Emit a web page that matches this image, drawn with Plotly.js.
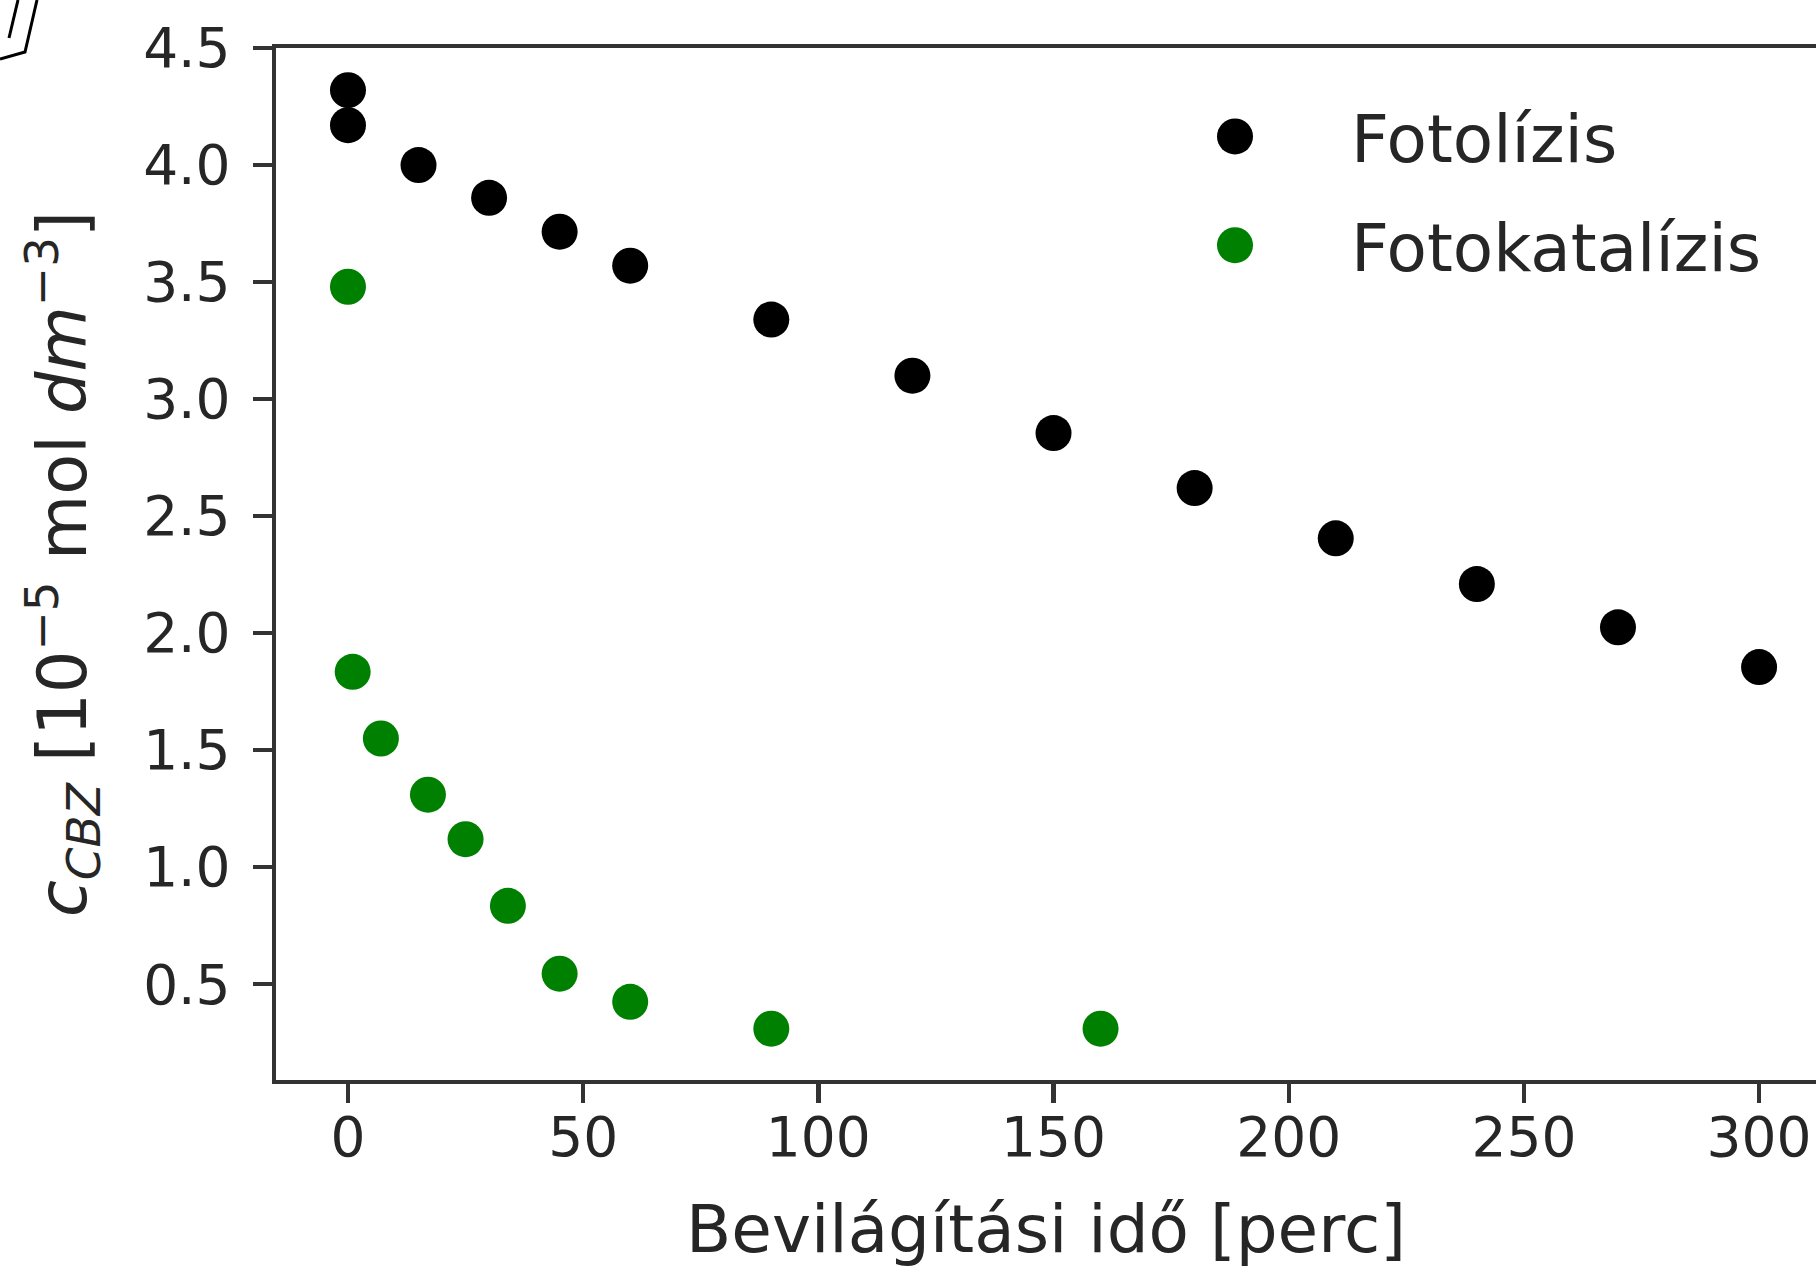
<!DOCTYPE html>
<html>
<head>
<meta charset="utf-8">
<script src="https://cdn.plot.ly/plotly-3.0.1.min.js"></script>
<style>
  html, body { margin: 0; padding: 0; background: #ffffff; }
  #chart { width: 1816px; height: 1268px; }
</style>
</head>
<body>
<div id="chart"></div>
<script>
// ---- data ----
const seriesNames = ["Fotolízis", "Fotokatalízis"];
const seriesColors = ["#000000", "#008000"];

const fotolizisTime = [0, 0, 15, 30, 45, 60, 90, 120, 150, 180, 210, 240, 270, 300];
const fotolizisConc = [4.32, 4.17, 4.00, 3.86, 3.715, 3.57, 3.34, 3.10, 2.855, 2.62, 2.405, 2.21, 2.025, 1.855];

const fotokatTime = [0, 1, 7, 17, 25, 34, 45, 60, 90, 160];
const fotokatConc = [3.48, 1.835, 1.55, 1.31, 1.12, 0.835, 0.545, 0.425, 0.31, 0.31];

const xTickVals = [0, 50, 100, 150, 200, 250, 300];
const xTickText = ["0", "50", "100", "150", "200", "250", "300"];
const yTickVals = [0.5, 1.0, 1.5, 2.0, 2.5, 3.0, 3.5, 4.0, 4.5];
const yTickText = ["0.5", "1.0", "1.5", "2.0", "2.5", "3.0", "3.5", "4.0", "4.5"];

const xTitle = "Bevilágítási idő [perc]";
const yTitle = "<i>c</i><sub><i>CBZ</i></sub> [10<sup>−5</sup> mol <i>dm</i><sup>−3</sup>]";

// ---- chart ----
const FONT = "DejaVu Sans, Liberation Sans, sans-serif";
const AX = "#333333";
const LW = 4.4;
const MARKER = 36;

const traces = [
  {
    x: fotolizisTime, y: fotolizisConc, name: seriesNames[0],
    type: "scatter", mode: "markers", legendgroup: "a",
    marker: { color: seriesColors[0], size: MARKER, line: { width: 0 } },
    cliponaxis: false, hoverinfo: "x+y"
  },
  {
    x: fotokatTime, y: fotokatConc, name: seriesNames[1],
    type: "scatter", mode: "markers", legendgroup: "b",
    marker: { color: seriesColors[1], size: MARKER, line: { width: 0 } },
    cliponaxis: false, hoverinfo: "x+y"
  }
];

const W = 1816, H = 1268;
const mL = 276, mR = 0, mT = 48, mB = 188;
const pw = W - mL - mR, ph = H - mT - mB;
function px(x) { return (x - mL) / pw; }
function py(y) { return 1 - (y - mT) / ph; }

const layout = {
  width: W, height: H,
  margin: { l: mL, r: mR, t: mT, b: mB, pad: 0 },
  paper_bgcolor: "#ffffff",
  plot_bgcolor: "#ffffff",
  font: { family: FONT, color: "#262626" },
  showlegend: true,
  xaxis: {
    range: [-15.3, 312.1],
    tickmode: "array", tickvals: xTickVals, ticktext: xTickText,
    ticks: "outside", ticklen: 19, tickwidth: LW, tickcolor: AX,
    showline: true, linecolor: AX, linewidth: LW, mirror: true,
    showgrid: false, zeroline: false,
    tickfont: { family: FONT, size: 55, color: "#262626" },
    ticklabelstandoff: -13,
    title: { text: xTitle, font: { family: FONT, size: 66, color: "#262626" }, standoff: 47 }
  },
  yaxis: {
    range: [0.091, 4.5],
    tickmode: "array", tickvals: yTickVals, ticktext: yTickText,
    ticks: "outside", ticklen: 19, tickwidth: LW, tickcolor: AX,
    showline: true, linecolor: AX, linewidth: LW, mirror: false,
    showgrid: false, zeroline: false,
    tickfont: { family: FONT, size: 55, color: "#262626" },
    ticklabelstandoff: 11,
    title: { text: yTitle, font: { family: FONT, size: 67, color: "#262626" }, standoff: 36 }
  },
  legend: {
    x: px(1119), y: py(87), xanchor: "left", yanchor: "top",
    bgcolor: "rgba(0,0,0,0)", borderwidth: 0,
    font: { family: FONT, size: 66, color: "#262626" },
    itemwidth: 222, traceorder: "grouped", tracegroupgap: 20
  },
  shapes: [
    { type: "line", xref: "paper", yref: "paper", x0: px(18), y0: py(0), x1: px(9), y1: py(38),
      line: { color: "#000000", width: 3 } },
    { type: "path", xref: "paper", yref: "paper",
      path: "M " + px(37) + " " + py(0) + " L " + px(25) + " " + py(52) + " L " + px(0) + " " + py(59),
      line: { color: "#000000", width: 3 } }
  ]
};

Plotly.newPlot("chart", traces, layout, { displayModeBar: false, staticPlot: true }).then(function (gd) {
  // enlarge legend symbols to match the plotted markers
  const k = MARKER / 16;
  gd.querySelectorAll(".legend .legendpoints path.scatterpts").forEach(function (p) {
    const t = p.getAttribute("transform") || "";
    p.setAttribute("transform", t + " scale(" + k + ")");
  });
});
</script>
</body>
</html>
